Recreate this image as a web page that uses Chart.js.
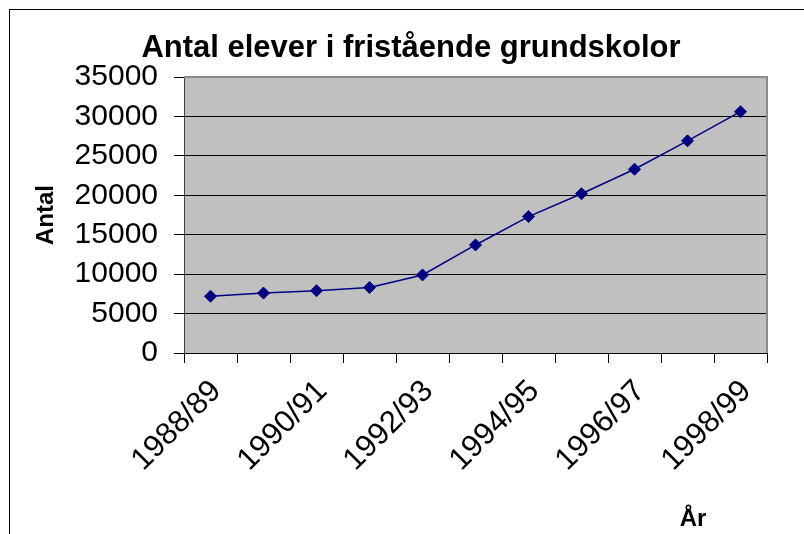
<!DOCTYPE html>
<html lang="sv">
<head>
  <meta charset="UTF-8">
  <title>Antal elever i fristående grundskolor</title>
  <script src="https://cdn.jsdelivr.net/npm/chart.js@4.4.1/dist/chart.umd.min.js"></script>
  <style>
    html, body { margin: 0; padding: 0; background: #fff; }
    canvas { display: block; }
  </style>
</head>
<body>
  <canvas id="chart" width="804" height="534"></canvas>

  <script>
    var years = ["1988/89", "1989/90", "1990/91", "1991/92", "1992/93", "1993/94",
                 "1994/95", "1995/96", "1996/97", "1997/98", "1998/99"];
    var students = [7200, 7600, 7900, 8300, 9900, 13700, 17300, 20200, 23300, 26900, 30600];
    var yTicks = [0, 5000, 10000, 15000, 20000, 25000, 30000, 35000];

    var font = "'Liberation Sans', Arial, sans-serif";

    // white page, outer chart frame, grey plot area
    var excelLook = {
      id: "excelLook",
      beforeDraw: function (chart) {
        var ctx = chart.ctx, a = chart.chartArea;
        ctx.save();
        ctx.fillStyle = "#fff";
        ctx.fillRect(0, 0, chart.width, chart.height);
        ctx.strokeStyle = "#000";
        ctx.lineWidth = 1;
        ctx.strokeRect(9.5, 9.5, chart.width + 20, chart.height + 20);
        ctx.fillStyle = "#c0c0c0";
        ctx.fillRect(a.left, a.top, a.right - a.left, a.bottom - a.top);
        ctx.restore();
      },
      beforeDatasetsDraw: function (chart) {
        var ctx = chart.ctx, a = chart.chartArea;
        ctx.save();
        ctx.strokeStyle = "#8a8a8a";
        ctx.lineWidth = 2;
        ctx.beginPath();
        ctx.moveTo(a.left, a.top);
        ctx.lineTo(a.right, a.top);
        ctx.lineTo(a.right, a.bottom);
        ctx.stroke();
        ctx.restore();
      },
      afterDraw: function (chart) {
        var ctx = chart.ctx;
        ctx.save();
        ctx.fillStyle = "#000";
        ctx.font = "bold 24px " + font;
        ctx.textAlign = "center";
        ctx.textBaseline = "alphabetic";
        ctx.fillText("År", 693, 526);
        ctx.restore();
      }
    };

    new Chart("chart", {
      type: "line",
      data: {
        labels: years,
        datasets: [{
          data: students,
          borderColor: "#000080",
          backgroundColor: "#000080",
          borderWidth: 1.5,
          pointStyle: "rectRot",
          pointRadius: 6,
          pointBorderWidth: 1,
          tension: 0
        }]
      },
      options: {
        responsive: false,
        animation: false,
        devicePixelRatio: 1,
        layout: { padding: { left: 18, right: 0, top: 0, bottom: 0 } },
        plugins: {
          legend: { display: false },
          tooltip: { enabled: false },
          title: {
            display: true,
            text: "Antal elever i fristående grundskolor",
            color: "#000",
            font: { family: font, size: 31, weight: "bold", lineHeight: 1 },
            padding: { top: 33, bottom: 13 }
          }
        },
        scales: {
          x: {
            offset: true,
            grid: { offset: true, drawOnChartArea: false, color: "#000", tickLength: 10 },
            border: { color: "#000", width: 1 },
            ticks: {
              autoSkip: false,
              minRotation: 45,
              maxRotation: 45,
              padding: 10,
              labelOffset: 6,
              color: "#000",
              font: { family: font, size: 31 },
              callback: function (v, i) { return i % 2 === 0 ? years[i] : ""; }
            },
            afterFit: function (s) { s.height = 534 - 353; }
          },
          y: {
            min: 0,
            max: 35000,
            afterBuildTicks: function (s) {
              s.ticks = yTicks.map(function (v) { return { value: v }; });
            },
            grid: { color: "#000", tickColor: "#000", tickLength: 10 },
            border: { color: "#404040", width: 1 },
            ticks: {
              padding: 16,
              color: "#000",
              font: { family: font, size: 30 },
              callback: function (v) { return String(v); }
            },
            title: {
              display: true,
              text: "Antal",
              color: "#000",
              font: { family: font, size: 24, weight: "bold", lineHeight: 1 },
              padding: { top: 16, bottom: 0 }
            },
            afterFit: function (s) { s.width = 184 - 18; }
          },
          y2: {
            position: "right",
            grid: { display: false, drawTicks: false },
            border: { display: false },
            ticks: { display: false },
            afterFit: function (s) { s.width = 804 - 767; }
          }
        }
      },
      plugins: [excelLook]
    });
  </script>
</body>
</html>
